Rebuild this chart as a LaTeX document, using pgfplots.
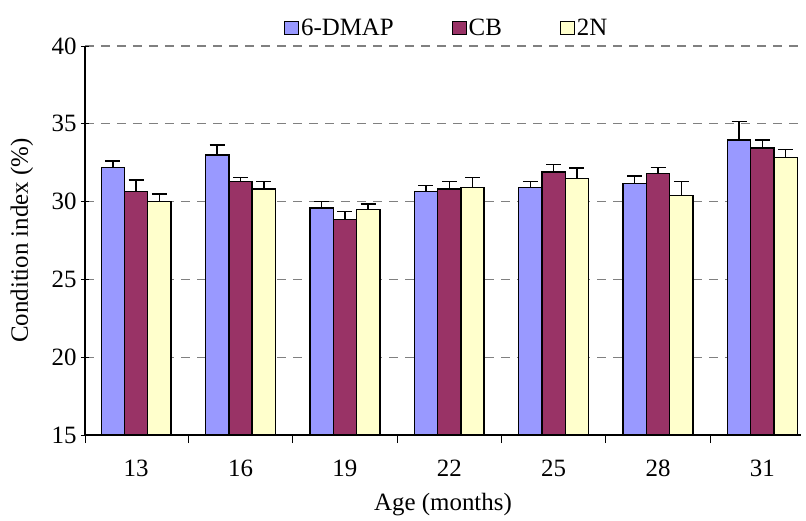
\documentclass[border=0pt]{standalone}
\usepackage{pgfplots}
\pgfplotsset{compat=1.18}
\usetikzlibrary{calc}
\usepackage{fontspec}
\setmainfont{Liberation Serif}
\definecolor{cdmap}{HTML}{9999FF}
\definecolor{ccb}{HTML}{993366}
\definecolor{ctwon}{HTML}{FFFFCC}
\definecolor{gridgray}{HTML}{808080}

\begin{document}
\begin{tikzpicture}
\begin{axis}[
    scale only axis,
    width=716bp, height=389bp,
    font=\fontsize{25}{29}\selectfont,
    /pgf/number format/assume math mode=true,
    ymin=15, ymax=40,
    ytick={15,20,...,40},
    xmin=-0.49, xmax=6.37,
    xtick={0,...,6},
    xticklabels={13,16,19,22,25,28,31},
    major x tick style={draw=none},
    minor xtick={-0.49,0.5,1.5,2.5,3.5,4.5,5.5},
    minor tick length=8bp,
    major tick length=8bp,
    tick align=outside,
    tick style={black, line width=0.8bp},
    axis x line=bottom,
    axis y line=left,
    axis line style={black, line width=1.2bp, -},
    ymajorgrids,
    grid style={gridgray, dash pattern=on 9bp off 7bp, line width=1.2bp},
    xticklabel style={yshift=-13bp},
    yticklabel style={xshift=-1bp},
    xlabel={Age (months)},
    ylabel={Condition index (\%)},
    xlabel style={at={(rel axis cs:0.5,0)}, anchor=center, yshift=-70bp},
    ylabel style={at={(rel axis cs:0,0.5)}, anchor=center, yshift=63bp},
    ybar,
    bar width=0.223,
    error bars/y dir=plus,
    error bars/y explicit,
    error bars/error mark options={rotate=90, mark size=7.5bp, line width=1.5bp},
    error bars/error bar style={line width=1.5bp, black},
    every axis plot/.append style={draw=black, line width=1.4bp},
    legend columns=3,
    legend style={draw=none, fill=none, inner sep=0pt, at={(rel axis cs:0,1)}, anchor=west,
        xshift=199bp, yshift=18bp, font=\fontsize{25}{29}\selectfont,
        nodes={inner sep=2bp},
        /tikz/every even column/.append style={column sep=56bp}},
    legend image code/.code={\draw[#1, draw=black, line width=0.9bp] (0bp,-6.5bp) rectangle (14bp,6.5bp);},
]
\addplot[fill=cdmap, bar shift=-0.223] coordinates {
    (0,32.2) +- (0,0.4)
    (1,33.0) +- (0,0.65)
    (2,29.6) +- (0,0.4)
    (3,30.65) +- (0,0.4)
    (4,30.9) +- (0,0.4)
    (5,31.15) +- (0,0.5)
    (6,33.95) +- (0,1.2)
};
\addplot[fill=ccb, bar shift=0] coordinates {
    (0,30.65) +- (0,0.75)
    (1,31.3) +- (0,0.25)
    (2,28.85) +- (0,0.5)
    (3,30.8) +- (0,0.5)
    (4,31.9) +- (0,0.5)
    (5,31.8) +- (0,0.4)
    (6,33.45) +- (0,0.5)
};
\addplot[fill=ctwon, bar shift=0.223] coordinates {
    (0,30.0) +- (0,0.5)
    (1,30.8) +- (0,0.5)
    (2,29.5) +- (0,0.35)
    (3,30.9) +- (0,0.65)
    (4,31.5) +- (0,0.65)
    (5,30.4) +- (0,0.9)
    (6,32.85) +- (0,0.5)
};
\legend{6-DMAP, CB, 2N}
\coordinate (o) at (rel axis cs:0,0);
\end{axis}
\pgfresetboundingbox
\path[use as bounding box] ($(o)+(-85bp,-86bp)$) rectangle ($(o)+(721bp,435bp)$);
\end{tikzpicture}
\end{document}
